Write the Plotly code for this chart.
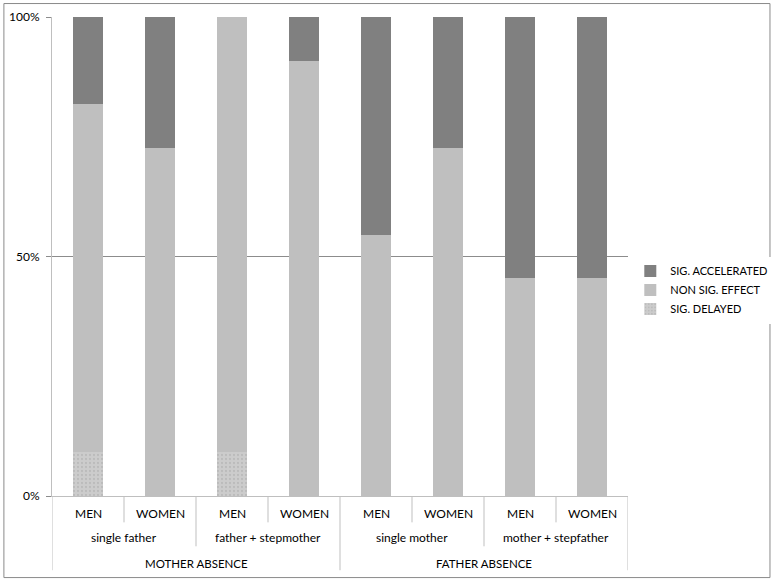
import plotly.graph_objects as go

# ---- data ----
genders = ["MEN", "WOMEN", "MEN", "WOMEN", "MEN", "WOMEN", "MEN", "WOMEN"]
families = ["single father", "father + stepmother", "single mother", "mother + stepfather"]
absences = ["MOTHER ABSENCE", "FATHER ABSENCE"]
sig_delayed = [9.09, 0, 9.09, 0, 0, 0, 0, 0]
non_sig = [72.73, 72.73, 90.91, 90.91, 54.55, 72.73, 45.45, 45.45]
sig_accel = [18.18, 27.27, 0, 9.09, 45.45, 27.27, 54.55, 54.55]
y_ticks = [0, 50, 100]
y_ticktext = ["0%", "50%", "100%"]

FONT = "Lato"
AX = "#bfbfbf"
x = list(range(len(genders)))

fig = go.Figure()
fig.add_bar(x=x, y=sig_delayed, name="SIG. DELAYED", width=0.41,
            marker=dict(color="#c4c4c4", line_width=0,
                        pattern=dict(shape=".", fgcolor="#aaaaaa", bgcolor="#cccccc",
                                     size=4, solidity=0.25)))
fig.add_bar(x=x, y=non_sig, name="NON SIG. EFFECT", width=0.41,
            marker=dict(color="#bfbfbf", line_width=0))
fig.add_bar(x=x, y=sig_accel, name="SIG. ACCELERATED", width=0.41,
            marker=dict(color="#808080", line_width=0))

n = len(genders)
shapes = []
annotations = []
for i, g in enumerate(genders):
    annotations.append(dict(x=i, y=-0.036, xref="x", yref="paper", text=g,
                            showarrow=False, yanchor="middle",
                            font=dict(family=FONT, size=12, color="#000")))
per_fam = n // len(families)
for j, f in enumerate(families):
    annotations.append(dict(x=j * per_fam + (per_fam - 1) / 2, y=-0.087, xref="x", yref="paper",
                            text=f, showarrow=False, yanchor="middle",
                            font=dict(family=FONT, size=12, color="#000")))
per_abs = n // len(absences)
for k, a in enumerate(absences):
    annotations.append(dict(x=k * per_abs + (per_abs - 1) / 2, y=-0.14, xref="x", yref="paper",
                            text=a, showarrow=False, yanchor="middle",
                            font=dict(family=FONT, size=11.5, color="#000")))
for b in range(n + 1):
    pos = b - 0.5
    if b == 0 or b == n or b % per_abs == 0:
        y1 = -0.155
    elif b % per_fam == 0:
        y1 = -0.105
    else:
        y1 = -0.055
    shapes.append(dict(type="line", xref="x", yref="paper", x0=pos, x1=pos, y0=0, y1=y1,
                       line=dict(color=AX, width=1)))
shapes.append(dict(type="rect", xref="paper", yref="paper",
                   x0=-0.0835, x1=1.2465, y0=-0.1703, y1=1.0281,
                   line=dict(color="#8a8a8a", width=1)))

fig.update_layout(
    barmode="stack",
    width=773, height=581,
    margin=dict(l=52, r=145, t=17, b=85, autoexpand=False),
    paper_bgcolor="white", plot_bgcolor="white",
    font=dict(family=FONT, size=12, color="#000"),
    xaxis=dict(range=[-0.5, n - 0.5], showticklabels=False, showgrid=False,
               zeroline=False, showline=True, linecolor=AX, ticks=""),
    yaxis=dict(range=[0, 100], tickvals=y_ticks, ticktext=y_ticktext,
               showgrid=True, gridcolor="#8c8c8c", gridwidth=1, zeroline=False,
               showline=True, linecolor=AX, ticks="outside", ticklen=5,
               tickcolor="#8c8c8c", ticklabelstandoff=4, tickfont=dict(family=FONT, size=12)),
    legend=dict(x=1.004, y=0.43, yanchor="middle", xanchor="left",
                font=dict(family=FONT, size=11), tracegroupgap=0, itemwidth=30),
    shapes=shapes, annotations=annotations,
    bargap=0.59,
)

fig.write_html("out.html", config={"displayModeBar": False},
               post_script="document.body.style.margin='0';")
